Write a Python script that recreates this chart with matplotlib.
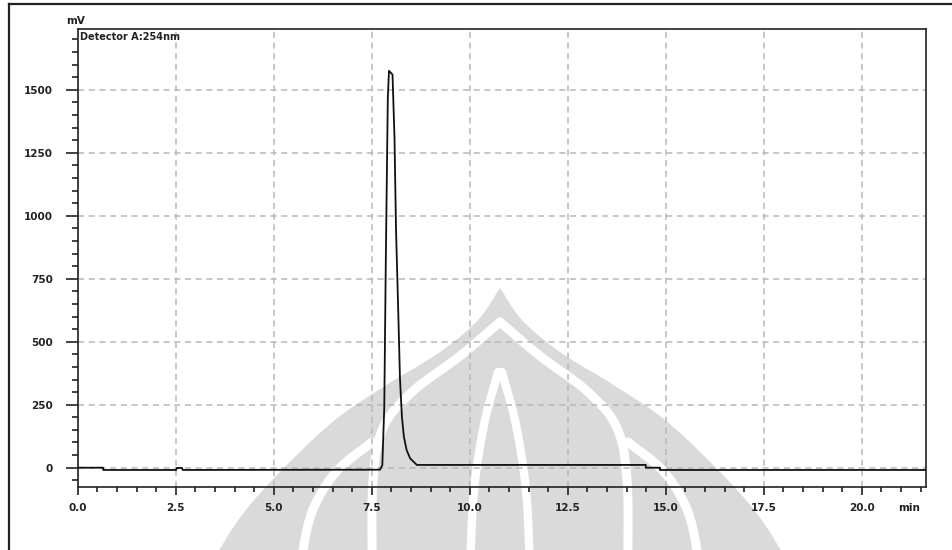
import matplotlib
matplotlib.use("Agg")
import matplotlib.pyplot as plt
import numpy as np
from matplotlib.lines import Line2D
from matplotlib.patches import Polygon
from matplotlib.ticker import MultipleLocator, FixedLocator

# Chromatogram trace (retention time in min, detector signal in mV)
time_min = [0.00, 0.65, 0.65, 2.51, 2.53, 2.66, 2.68, 7.71, 7.77, 7.82, 7.86,
            7.91, 7.94, 8.03, 8.08, 8.12, 8.18, 8.22, 8.27, 8.32, 8.39, 8.48,
            8.65, 14.49, 14.49, 14.85, 14.85, 21.63]
signal_mv = [0, 0, -9, -9, -1, -1, -9, -8, 10, 242, 836,
             1464, 1575, 1560, 1312, 942, 598, 354, 202, 123, 70, 37,
             11, 11, 0, 0, -9, -9]

x_major = [0.0, 2.5, 5.0, 7.5, 10.0, 12.5, 15.0, 17.5, 20.0]
x_labels = ["0.0", "2.5", "5.0", "7.5", "10.0", "12.5", "15.0", "17.5", "20.0"]
y_major = [0, 250, 500, 750, 1000, 1250, 1500]
y_labels = ["0", "250", "500", "750", "1000", "1250", "1500"]

W, H = 953, 550
fig = plt.figure(figsize=(W / 100, H / 100), dpi=100)
fig.patch.set_facecolor("white")


def fx(px):
    return np.asarray(px, dtype=float) / W


def fy(py):
    return 1 - np.asarray(py, dtype=float) / H


def catmull(pts, n=24):
    """Smooth open curve through the given points (Catmull-Rom)."""
    p = np.asarray(pts, dtype=float)
    p = np.vstack([2 * p[0] - p[1], p, 2 * p[-1] - p[-2]])
    out = []
    t = np.linspace(0, 1, n, endpoint=False)[:, None]
    for i in range(1, len(p) - 2):
        p0, p1, p2, p3 = p[i - 1], p[i], p[i + 1], p[i + 2]
        seg = 0.5 * ((2 * p1) + (-p0 + p2) * t
                     + (2 * p0 - 5 * p1 + 4 * p2 - p3) * t ** 2
                     + (-p0 + 3 * p1 - 3 * p2 + p3) * t ** 3)
        out.append(seg)
    out.append(p[-2][None, :])
    return np.vstack(out)


def mirror_x(curve, cx=500):
    c = curve.copy()
    c[:, 0] = 2 * cx - c[:, 0]
    return c


# Watermark emblem behind the plot (pixel layout, y downward)
wm_gray = "#dadada"
right = catmull([(500, 288), (522, 320), (560, 352), (612, 384), (665, 420),
                 (718, 470), (758, 515), (790, 565)])
outline = np.vstack([right, mirror_x(right)[::-1]])
fig.add_artist(Polygon(np.column_stack([fx(outline[:, 0]), fy(outline[:, 1])]),
                       closed=True, transform=fig.transFigure,
                       facecolor=wm_gray, edgecolor="none", zorder=0))

white_strokes = [
    ([(500, 322), (540, 356), (588, 392), (617, 428), (627, 480), (628, 565)], 6.5),
    ([(628, 442), (664, 472), (688, 512), (700, 565)], 6.5),
    ([(502, 372), (516, 425), (526, 490), (530, 565)], 6),
]
for pts, lw in white_strokes:
    c = catmull(pts)
    for cc in (c, mirror_x(c)):
        fig.add_artist(Line2D(fx(cc[:, 0]), fy(cc[:, 1]),
                              transform=fig.transFigure, color="white", lw=lw,
                              zorder=0.1, solid_capstyle="round",
                              solid_joinstyle="round"))

# Outer frame lines
fig.add_artist(Line2D(fx([9, 9]), [fy(4), 0], transform=fig.transFigure,
                      color="#222222", lw=1.6))
fig.add_artist(Line2D([fx(9), 1], fy([4, 4]), transform=fig.transFigure,
                      color="#222222", lw=1.6))

ax_l, ax_r, ax_t, ax_b = 77.7, 925.7, 29.3, 486.7
ax = fig.add_axes([fx(ax_l), fy(ax_b), fx(ax_r - ax_l), (ax_b - ax_t) / H])
ax.set_facecolor("none")
ax.set_zorder(2)

ax.plot(time_min, signal_mv, color="#111111", lw=1.3, zorder=3)

ax.set_xlim(0, 21.63)
ax.set_ylim(-75.4, 1739.7)

ax.xaxis.set_major_locator(FixedLocator(x_major))
ax.set_xticklabels(x_labels)
ax.xaxis.set_minor_locator(MultipleLocator(0.5))
ax.yaxis.set_major_locator(FixedLocator(y_major))
ax.set_yticklabels(y_labels)
ax.yaxis.set_minor_locator(MultipleLocator(50))

ax.tick_params(axis="x", which="major", direction="out", length=6, width=1.2,
               pad=6, labelsize=7.5, color="#222222")
ax.tick_params(axis="x", which="minor", direction="out", length=3.6, width=1.2,
               color="#222222")
ax.tick_params(axis="y", which="major", direction="out", length=8.3, width=1.2,
               pad=9.4, labelsize=7.5, color="#222222")
ax.tick_params(axis="y", which="minor", direction="out", length=4.3, width=1.2,
               color="#222222")
for lab in ax.get_xticklabels() + ax.get_yticklabels():
    lab.set_fontweight("bold")
    lab.set_color("#222222")

for sp in ax.spines.values():
    sp.set_linewidth(1.2)
    sp.set_color("#222222")

ax.grid(True, which="major", color="#b8b8b8", linestyle=(0, (4, 3)),
        linewidth=1.1)
ax.set_axisbelow(True)

ax.annotate("min", xy=(21.2, 0), xycoords=("data", "axes fraction"),
            xytext=(0, -12), textcoords="offset points", ha="center",
            va="top", fontsize=7.5, fontweight="bold", color="#222222")
fig.text(fx(76), fy(21), "mV", ha="center", va="center", fontsize=7.5,
         fontweight="bold", color="#222222")
fig.text(fx(80), fy(37), "Detector A:254nm", ha="left", va="center",
         fontsize=7, fontweight="bold", color="#222222")

fig.savefig("out.png", dpi=100)
